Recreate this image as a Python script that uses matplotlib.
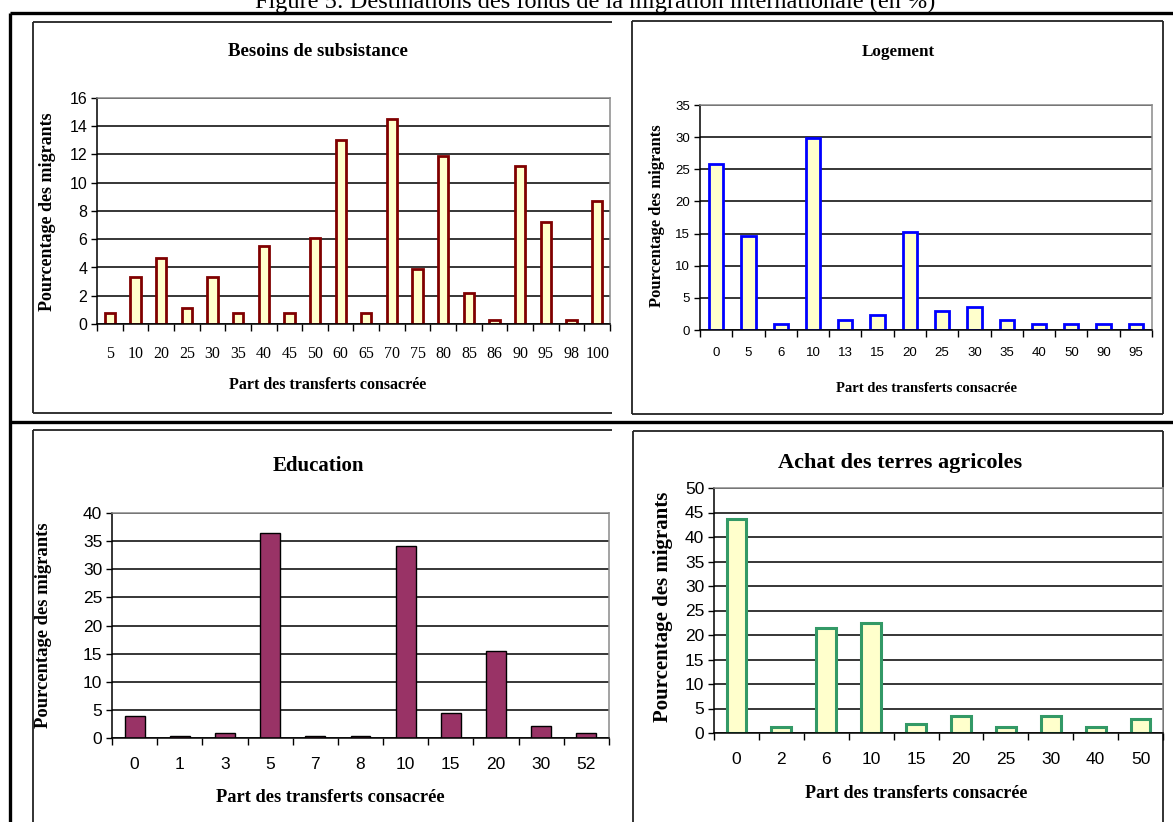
import matplotlib
matplotlib.use("Agg")
import matplotlib.pyplot as plt
import numpy as np

# ---- data -------------------------------------------------------------
subsistance_cats = ["5", "10", "20", "25", "30", "35", "40", "45", "50", "60",
                    "65", "70", "75", "80", "85", "86", "90", "95", "98", "100"]
subsistance_vals = [0.8, 3.3, 4.7, 1.1, 3.3, 0.8, 5.5, 0.8, 6.1, 13.0,
                    0.8, 14.5, 3.9, 11.9, 2.2, 0.3, 11.2, 7.2, 0.3, 8.7]

logement_cats = ["0", "5", "6", "10", "13", "15", "20", "25", "30", "35",
                 "40", "50", "90", "95"]
logement_vals = [25.8, 14.7, 0.9, 29.9, 1.5, 2.3, 15.3, 2.9, 3.6, 1.5,
                 0.9, 0.9, 0.9, 0.9]

education_cats = ["0", "1", "3", "5", "7", "8", "10", "15", "20", "30", "52"]
education_vals = [3.9, 0.4, 0.9, 36.4, 0.4, 0.4, 34.1, 4.4, 15.5, 2.1, 0.9]

terres_cats = ["0", "2", "6", "10", "15", "20", "25", "30", "40", "50"]
terres_vals = [43.7, 1.2, 21.5, 22.4, 1.8, 3.5, 1.2, 3.5, 1.2, 2.9]

# ---- figure -----------------------------------------------------------
W, H = 1173, 822
fig = plt.figure(figsize=(W / 100, H / 100), dpi=100)
fig.patch.set_facecolor("white")

SERIF = "Liberation Serif"
SANS = "Liberation Sans"


def fx(x):
    return x / W


def fy(y):
    return 1 - y / H


# overlay in pixel units for the table frame and chart boxes
frame = fig.add_axes([0, 0, 1, 1], zorder=0)
frame.set_xlim(0, W)
frame.set_ylim(H, 0)
frame.axis("off")


def seg(x0, y0, x1, y1, lw, color):
    frame.plot([x0, x1], [y0, y1], color=color, lw=lw, solid_capstyle="butt")


# outer table
seg(10, 13, W, 13, 2.4, "black")
seg(10, 13, 10, H, 2.4, "black")
seg(10, 422, W, 422, 2.4, "black")

box_col = "#222222"
# top-left box (clipped on the right)
seg(33, 22, 612, 22, 1.3, box_col)
seg(33, 22, 33, 413, 1.3, box_col)
seg(33, 413, 612, 413, 1.3, box_col)
# top-right box
seg(632, 21, 1163, 21, 1.3, box_col)
seg(632, 21, 632, 414, 1.3, box_col)
seg(1163, 21, 1163, 414, 1.3, box_col)
seg(632, 414, 1163, 414, 1.3, box_col)
# bottom-left box
seg(33, 430, 612, 430, 1.3, box_col)
seg(33, 430, 33, H, 1.3, box_col)
# bottom-right box
seg(633, 431, 1163, 431, 1.3, box_col)
seg(633, 431, 633, H, 1.3, box_col)
seg(1163, 431, 1163, H, 1.3, box_col)

# figure caption, cut by the top edge
fig.text(fx(595), fy(8), "Figure 5: Destinations des fonds de la migration internationale (en %)",
         ha="center", va="baseline", fontsize=17.5, family=SERIF)


def panel(rect, cats, vals, ymax, ystep, fill, edge, elw,
          title, title_xy, title_fs,
          ylab_xy, ylab_fs, xlab_xy, xlab_fs,
          tick_fs, xtick_family, xtick_pad, bar_w=0.42):
    left, top, right, bottom = rect
    ax = fig.add_axes([fx(left), fy(bottom), fx(right - left), (bottom - top) / H], zorder=2)
    x = np.arange(len(cats))
    ax.bar(x, vals, width=bar_w, color=fill, edgecolor=edge, linewidth=elw, zorder=3)
    ax.set_xlim(-0.5, len(cats) - 0.5)
    ax.set_ylim(0, ymax)
    ax.set_yticks(np.arange(0, ymax + 0.01, ystep))
    ax.set_xticks(x)
    ax.set_xticklabels(cats, family=xtick_family, fontsize=tick_fs)
    for lab in ax.get_yticklabels():
        lab.set_family(SANS)
        lab.set_fontsize(tick_fs)
    ax.set_xticks(np.arange(len(cats) + 1) - 0.5, minor=True)
    ax.tick_params(axis="x", which="major", length=0, pad=xtick_pad)
    ax.tick_params(axis="x", which="minor", length=5, width=1, direction="out", color="black")
    ax.tick_params(axis="y", length=4, width=1, direction="out", pad=3, color="black")
    ax.yaxis.grid(True, color="black", lw=1.1, zorder=1)
    ax.set_axisbelow(True)
    for s in ("left", "bottom"):
        ax.spines[s].set_color("black")
        ax.spines[s].set_linewidth(1.1)
    for s in ("top", "right"):
        ax.spines[s].set_color("#8a8a8a")
        ax.spines[s].set_linewidth(1.1)
    ax.spines["bottom"].set_zorder(4)
    ax.set_facecolor("white")

    fig.text(fx(title_xy[0]), fy(title_xy[1]), title, ha="center", va="center",
             fontsize=title_fs, family=SERIF, weight="bold")
    fig.text(fx(ylab_xy[0]), fy(ylab_xy[1]), "Pourcentage des migrants", ha="center", va="center",
             rotation=90, fontsize=ylab_fs, family=SERIF, weight="bold")
    fig.text(fx(xlab_xy[0]), fy(xlab_xy[1]), "Part des transferts consacrée", ha="center", va="center",
             fontsize=xlab_fs, family=SERIF, weight="bold")
    return ax


cream = "#FFFFCC"

panel((97, 98, 610, 324), subsistance_cats, subsistance_vals, 16, 2,
      cream, "#800000", 2.0,
      "Besoins de subsistance", (318, 52), 13.5,
      (48, 212), 13, (328, 385), 11.5,
      11.5, SERIF, 16, bar_w=0.4)

panel((700, 105, 1152, 330), logement_cats, logement_vals, 35, 5,
      cream, "#0000FF", 2.0,
      "Logement", (898, 52), 12.3,
      (657, 216), 12, (926, 388), 10.5,
      9.5, SANS, 12, bar_w=0.44)

panel((112, 513, 609, 738), education_cats, education_vals, 40, 5,
      "#993366", "black", 1.0,
      "Education", (318, 466), 15,
      (44, 625), 13.4, (330, 797), 13.2,
      12.5, SANS, 14, bar_w=0.44)

panel((714, 488, 1163, 733), terres_cats, terres_vals, 50, 5,
      cream, "#339966", 2.2,
      "Achat des terres agricoles", (900, 463), 16,
      (663, 607), 15, (916, 793), 13,
      12.5, SANS, 14, bar_w=0.44)

fig.savefig("out.png", dpi=100, facecolor="white")
